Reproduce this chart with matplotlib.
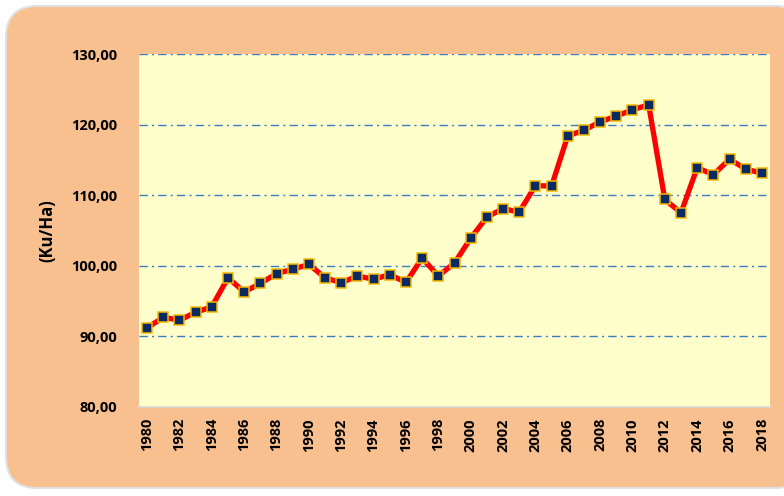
import matplotlib
matplotlib.use("Agg")
import matplotlib.pyplot as plt
from matplotlib.patches import FancyBboxPatch
import numpy as np

years = list(range(1980, 2019))
yields = [91.2, 92.7, 92.3, 93.4, 94.2, 98.3, 96.3, 97.5, 98.9, 99.5,
          100.2, 98.3, 97.6, 98.55, 98.1, 98.75, 97.65, 101.1, 98.55, 100.4,
          103.9, 106.9, 108.1, 107.6, 111.35, 111.3, 118.4, 119.2, 120.4, 121.2,
          122.1, 122.8, 109.4, 107.5, 113.9, 112.9, 115.1, 113.7, 113.1]
yticks = [80, 90, 100, 110, 120, 130]
ylabel = "(Ku/Ha)"

plt.rcParams['font.family'] = ['Open Sans', 'DejaVu Sans']

fig = plt.figure(figsize=(7.84, 4.96), dpi=100)
fig.patch.set_facecolor("white")
bg = FancyBboxPatch((6/784, 8/496), 800/784, 482/496,
                    boxstyle="round,pad=0,rounding_size=0.04",
                    transform=fig.transFigure, facecolor="#F8BF8F",
                    edgecolor="#E0E0E0", linewidth=1.5, mutation_aspect=784/496,
                    zorder=-10)
fig.patches.append(bg)

ax = fig.add_axes([139/784, 1-407/496, (770-139)/784, (407-54)/496])
ax.set_zorder(5)
ax.set_facecolor("#FFFFCC")
x = np.arange(len(years))
ax.plot(x, yields, color="#FF0000", linewidth=3.8, marker="s", markersize=6.5,
        markerfacecolor="#0B2A63", markeredgecolor="#F5B800", markeredgewidth=1.1,
        zorder=3)
ax.set_xlim(-0.5, len(years) - 0.5)
ax.set_ylim(80, 130)
ax.set_yticks(yticks)
ax.set_yticklabels([f"{v:.2f}".replace(".", ",") for v in yticks],
                   fontsize=10.5, fontweight="bold")
for v in yticks[1:]:
    ax.axhline(v, color="#3C7CC4", linewidth=1.0, linestyle=(0, (6, 3, 1.5, 3)), zorder=1)
ax.set_xticks(x[::2])
ax.set_xticklabels([str(y) for y in years[::2]], rotation=90, fontsize=10.5,
                   fontweight="bold")
ax.tick_params(axis="both", length=0, pad=8)
ax.tick_params(axis="y", pad=16)
for s in ["top", "right", "left"]:
    ax.spines[s].set_visible(False)
ax.spines["bottom"].set_color("#D9D9D9")
ax.spines["bottom"].set_linewidth(1.2)
ax.set_ylabel(ylabel, fontsize=12, fontweight="bold", labelpad=10)

fig.savefig("out.png", dpi=100, facecolor=fig.get_facecolor())
